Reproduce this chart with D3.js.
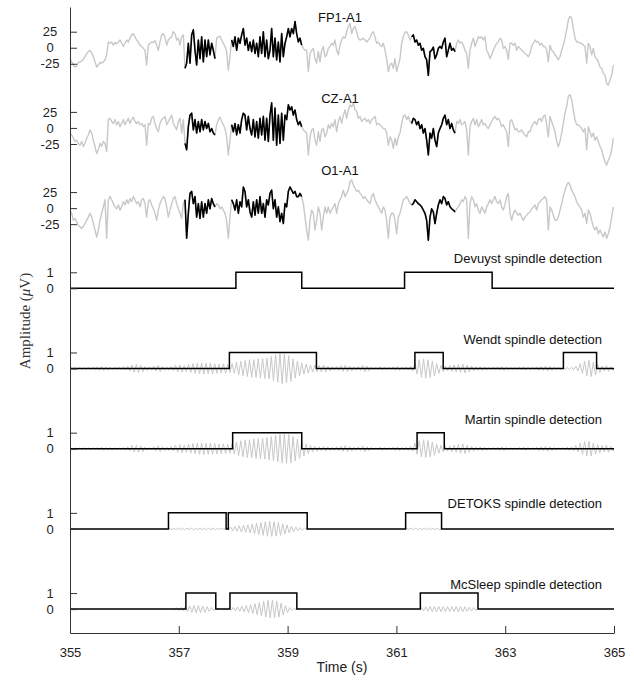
<!DOCTYPE html>
<html>
<head>
<meta charset="utf-8">
<script src="https://cdn.jsdelivr.net/npm/d3@7/dist/d3.min.js"></script>
<style>
  body { margin: 0; background: #fff; }
  text { font-family: "Liberation Sans", Arial, sans-serif; }
</style>
</head>
<body>
<div id="chart"></div>
<script>
// EEG traces (µV), resampled at fs starting at 355 s
const fs = 32.64;
const tStart = 355;

const fp1 = [
  -17,-22,-27,-30,-29,-23,-22,-21,-18,-14, -9,-6,-4,-8,-14,-22,-30,-27,-23,-24,
  -22,-19,-11,9,7,9,4,8,6,9, 12,7,2,7,12,9,15,20,22,17,
  12,9,4,2,-1,-4,-27,4,7,9, 8,11,4,-4,9,20,22,17,4,12,
  15,17,25,22,12,15,4,17,20,-32, -24,7,-24,20,28,-4,-27,12,-17,17,
  -22,12,-14,12,-11,7,-4,-17,15,17, 18,12,7,2,-6,-35,-14,12,2,17,
  -4,15,7,20,30,4,15,-4,9,-6, 12,-9,7,-14,17,-9,25,-14,12,-17,
  -4,30,-14,15,-19,9,-22,22,-14,7, 17,30,17,30,22,41,22,9,15,4,
  -1,-4,-4,-37,-9,-4,-1,-17,-24,-6, -22,-4,2,-14,-11,-1,2,7,4,12,
  -4,-11,4,12,17,15,25,33,38,22, 30,33,25,15,12,13,15,12,9,12,
  15,22,25,17,7,9,4,2,7,-4, -17,-37,-27,-24,-32,-17,-37,-27,-17,7,
  17,24,25,20,12,17,20,9,12,4, 7,-4,-1,-14,-19,-43,-6,-4,1,-17,
  -11,-1,2,-1,9,15,-14,-4,7,-4, -1,-6,7,12,7,9,4,-4,-9,-32,
  -4,7,15,2,9,17,15,17,12,17, -4,-9,-17,-11,-4,2,7,9,15,12,
  -1,2,-4,-18,7,7,4,7,-4,2, -1,-4,-6,-9,-11,-14,-9,2,7,12,
  9,9,4,7,2,2,-4,-22,4,-4, -6,-11,-14,-19,-14,-4,4,15,28,43,
  49,46,30,15,9,9,7,7,4,2, -24,7,2,-11,-1,-14,-17,-22,-30,-32,
  -40,-43,-56,-58,-50,-43,-27
];

const cz = [
  -8,-11,-16,-21,-19,-24,-27,-21,-29,-24, -16,-11,-3,-8,-19,-29,-40,-34,-24,-29,
  -21,-24,-37,13,15,10,7,13,5,10, 2,7,13,5,10,15,7,13,17,10,
  7,10,5,7,2,5,-27,7,5,15, 18,7,-1,-6,7,13,15,18,5,10,
  15,20,7,2,-3,10,15,-8,13,-24, -34,2,20,23,-3,13,-8,10,-6,13,
  -3,10,-1,7,-6,-1,-8,-11,5,13, 17,10,5,-1,-14,-42,-19,5,-6,7,
  -11,5,-8,13,23,20,-3,18,-1,-11, 13,-14,10,-16,15,-11,18,-19,15,-21,
  20,39,-19,31,-27,20,-24,23,-19,20, 13,36,28,33,20,28,13,5,10,2,
  -3,-6,-8,-42,-14,-3,-1,-19,-27,-6, -21,-3,-1,-14,-8,5,-1,7,2,13,
  -6,10,18,7,20,28,15,28,36,33, 39,28,26,15,18,10,13,15,10,13,
  7,13,15,18,5,7,5,2,-1,-1, -8,-27,-14,-19,-32,-16,-27,-14,-8,7,
  18,20,13,18,10,7,15,13,5,10, -1,5,-8,-1,-19,-42,-8,-16,-1,-19,
  -29,-8,-1,5,15,20,5,13,-1,7, -3,-8,10,7,13,5,7,10,-3,-42,
  2,10,15,5,13,2,7,13,5,7, 2,-1,5,10,15,18,13,15,10,2,
  5,-1,-6,-29,10,13,5,-3,-1,-6, -6,-3,-8,-11,-14,-6,-6,2,7,10,
  5,13,15,10,18,20,5,-14,18,10, 2,-6,-21,-29,-21,-8,7,23,33,49,
  52,44,28,13,5,5,2,-1,-6,-1, -34,2,-6,-14,-8,-19,-14,-21,-29,-34,
  -45,-53,-58,-50,-45,-34,-16
];

const o1 = [
  -3,-8,-19,-16,-21,-27,-29,-32,-29,-24, -19,-14,-8,-14,-24,-34,-45,-34,-19,-8,
  2,13,-47,13,18,13,7,2,-1,5, -3,2,10,5,13,7,15,10,18,13,
  7,10,2,13,15,7,-14,10,13,5, -1,-8,-19,-3,7,13,18,15,2,-14,
  -3,7,15,18,7,-1,-8,-16,7,13, -47,-8,23,26,7,18,-14,7,-16,10,
  -14,7,-8,13,-1,15,7,2,7,5, -1,2,-3,-8,-19,-47,-14,13,7,-3,
  13,-8,10,2,33,26,2,13,-6,-14, 10,-11,13,-8,18,-8,7,-14,13,5,
  23,28,-1,13,-14,2,-21,-8,-24,7, 2,26,33,28,23,26,18,18,23,18,
  7,-14,-34,-50,-19,-3,-8,-34,-19,2, -8,-34,-14,2,-8,2,-8,-3,2,7,
  -8,7,13,18,28,18,23,28,41,44, 36,31,26,28,23,20,15,18,13,10,
  7,18,23,13,7,2,-3,-8,2,-3, -19,-47,-14,-8,-8,-19,-40,-14,-8,2,
  13,15,18,13,7,5,7,13,10,7, 5,2,-3,-8,-19,-50,-14,-1,-6,-24,
  -8,5,13,7,18,15,5,10,2,-1, -3,-6,-1,2,7,13,10,18,13,-47,
  7,18,13,2,7,-3,-8,2,-3,-8, 2,7,13,7,13,18,10,7,13,2,
  -3,5,18,23,-8,-19,-8,-3,-8,-11, -8,-14,-19,-14,-11,-8,-6,-1,2,5,
  -3,7,10,13,15,18,13,-34,2,-3, -11,-19,-19,-14,-3,7,18,28,36,40,
  36,28,23,18,10,5,2,-3,-14,-8, -24,-3,-8,-19,-29,-34,-29,-40,-34,-40,
  -45,-37,-47,-40,-29,-14,2
];

const channelNames = ["FP1-A1", "CZ-A1", "O1-A1"];
// stretches of the EEG drawn in black (s)
const eegSpindles = [[357.11, 357.67], [357.97, 359.26], [361.28, 362.08]];

// detector outputs: [onset, offset] in s
const detectorNames = ["Devuyst spindle detection", "Wendt spindle detection",
  "Martin spindle detection", "DETOKS spindle detection", "McSleep spindle detection"];
const devuyst = [[358.05, 359.26], [361.15, 362.76]];
const wendt = [[357.93, 359.53], [361.34, 361.86], [364.07, 364.68]];
const martin = [[357.99, 359.26], [361.38, 361.88]];
const detoks = [[356.81, 357.87], [357.91, 359.36], [361.17, 361.83]];
const mcsleep = [[357.13, 357.68], [357.94, 359.17], [361.44, 362.50]];

// sigma-band trace behind the detections: amplitude of each cycle (0.08 s per cycle)
const cycle = 0.08;
const wendtSigma = [
  0.04,0.05,0.06,0.05,0.06, 0.08,0.1,0.12,0.1,0.08,0.06,0.08,0.1,
  0.15,0.22,0.25,0.2,0.12,0.1, 0.15,0.2,0.12,0.08,0.12,0.2,
  0.22,0.18,0.25,0.3,0.33,0.35,0.32,0.34,0.3,0.28,0.3,0.25,
  0.3,0.4,0.45,0.5,0.55,0.55,0.6,0.62,0.65,0.75,0.85,0.95,0.9,0.8,0.6,0.45,0.35,0.28,0.22,0.2,
  0.2,0.22,0.15,0.1,0.12,0.18,0.2,0.15,0.1,0.12,0.2,0.15,0.08,0.06,0.1,0.08,0.06,0.1,0.12,0.08,0.1,0.15,
  0.35,0.55,0.6,0.55,0.45,0.3,0.2,0.15,
  0.18,0.22,0.25,0.28,0.22,0.15,0.1,0.12,0.1,0.06,0.08,0.1,0.12,0.08,0.06,0.05,0.08,0.1,0.08,0.06,0.1,0.12,0.15,0.12,0.08,0.06,
  0.05,0.06,0.08,0.15,0.3,0.45,0.5,0.4,0.25,0.15,0.18,0.12
];
const martinSigma = [
  0.04,0.05,0.05,0.06,0.05, 0.06,0.08,0.1,0.08,0.06,0.05,0.06,0.08,
  0.12,0.2,0.22,0.18,0.1,0.08, 0.12,0.18,0.12,0.1,0.14,0.22,
  0.25,0.22,0.28,0.32,0.35,0.36,0.34,0.35,0.32,0.3,0.3,0.28,
  0.32,0.42,0.5,0.55,0.55,0.6,0.62,0.65,0.7,0.75,0.82,0.9,0.92,0.88,0.75,0.6,0.45,0.3,0.2,0.15,
  0.12,0.15,0.12,0.1,0.12,0.16,0.2,0.15,0.1,0.12,0.18,0.12,0.08,0.06,0.1,0.08,0.06,0.1,0.12,0.08,0.1,0.15,
  0.35,0.5,0.55,0.5,0.4,0.28,0.2,0.15,
  0.18,0.22,0.28,0.3,0.22,0.15,0.1,0.12,0.1,0.06,0.08,0.1,0.12,0.08,0.06,0.05,0.08,0.1,0.08,0.06,0.1,0.12,0.15,0.12,0.08,0.06,
  0.08,0.1,0.12,0.2,0.35,0.45,0.45,0.35,0.25,0.2,0.22,0.15
];
const detoksSigma = [
  { start: 356.81, amp: [0.04,0.05,0.05,0.05,0.05,0.06,0.05,0.05,0.05,0.05,0.05,0.04,0.04,
    0.08,0.12,0.15,0.2,0.22,0.25,0.3,0.35,0.4,0.45,0.47,0.45,0.4,0.32,0.25,0.18,0.12,0.08,0.05] },
  { start: 361.17, amp: [0.04,0.05,0.05,0.05,0.05,0.05,0.05,0.04] }
];
const mcsleepSigma = [
  { start: 356.86, amp: [0.05,0.08,0.1,0.15,0.2,0.23,0.22,0.2,0.15,0.1,0.05,0.04,0.05,
    0.08,0.1,0.14,0.18,0.22,0.28,0.35,0.42,0.5,0.55,0.55,0.5,0.38,0.22,0.1,0.04] },
  { start: 361.44, amp: [0.1,0.14,0.16,0.17,0.16,0.15,0.15,0.16,0.17,0.16,0.14,0.12,0.1] }
];
const wendtSigmaSegs = [{ start: 355, amp: wendtSigma }];
const martinSigmaSegs = [{ start: 355, amp: martinSigma }];

const xTicks = [355, 357, 359, 361, 363, 365];

// ---------------------------------------------------------------
const W = 634, H = 682;
const rowGap = 5;          // vertical distance between rows, in y units
const uvPerUnit = 25;      // 25 µV drawn as one unit

const x = d3.scaleLinear().domain([355, 365]).range([70, 614]);
const y = d3.scaleLinear().domain([2.54, -36.49]).range([7, 633]);

const svg = d3.select("#chart").append("svg")
    .attr("width", W)
    .attr("height", H);

const eeg = [fp1, cz, o1];
const detections = [devuyst, wendt, martin, detoks, mcsleep];
const sigmas = [null, wendtSigmaSegs, martinSigmaSegs, detoksSigma, mcsleepSigma];
const titleDy = [-26, -25, -33, -25, -24.5, -24.5, -21, -20.5];

const lineXY = d3.line().x(d => x(d[0])).y(d => y(d[1]));

// EEG channels
eeg.forEach((sig, k) => {
    const off = -rowGap * k;
    const pts = sig.map((v, i) => [tStart + i / fs, v / uvPerUnit + off]);

    svg.append("path")
        .attr("d", lineXY(pts))
        .attr("fill", "none")
        .attr("stroke", "#c8c8c8")
        .attr("stroke-width", 1.4)
        .attr("stroke-linejoin", "round");

    eegSpindles.forEach(([a, b]) => {
        const seg = pts.filter(p => p[0] >= a - 1e-6 && p[0] <= b + 1e-6);
        svg.append("path")
            .attr("d", lineXY(seg))
            .attr("fill", "none")
            .attr("stroke", "#000")
            .attr("stroke-width", 1.6)
            .attr("stroke-linejoin", "round");
    });

    svg.append("text")
        .attr("x", 340)
        .attr("y", y(off) + titleDy[k])
        .attr("text-anchor", "middle")
        .style("font-size", "13px")
        .attr("fill", "#111")
        .text(channelNames[k]);
});

// detector rows
detections.forEach((events, j) => {
    const k = j + 3;
    const off = -rowGap * k;

    if (sigmas[j]) {
        sigmas[j].forEach(seg => {
            const pts = [[seg.start, off]];
            seg.amp.forEach((a, i) => {
                pts.push([seg.start + i * cycle + cycle / 4, off + a]);
                pts.push([seg.start + i * cycle + 3 * cycle / 4, off - a]);
            });
            pts.push([seg.start + seg.amp.length * cycle, off]);
            svg.append("path")
                .attr("d", lineXY(pts))
                .attr("fill", "none")
                .attr("stroke", "#c8c8c8")
                .attr("stroke-width", 1);
        });
    }

    const steps = [[355, 0]];
    events.forEach(([a, b]) => { steps.push([a, 1]); steps.push([b, 0]); });
    steps.push([365, 0]);

    svg.append("path")
        .attr("d", d3.line()
            .x(d => x(d[0]))
            .y(d => y(d[1] + off))
            .curve(d3.curveStepAfter)(steps))
        .attr("fill", "none")
        .attr("stroke", "#000")
        .attr("stroke-width", 1.5);

    svg.append("text")
        .attr("x", 602)
        .attr("y", y(off) + titleDy[k])
        .attr("text-anchor", "end")
        .style("font-size", "13px")
        .attr("fill", "#111")
        .text(detectorNames[j]);
});

// y axis: ±25 µV on EEG rows, 0/1 on detector rows
const yTickLabels = new Map();
[0, 1, 2].forEach(k => {
    yTickLabels.set(-rowGap * k - 1, "-25");
    yTickLabels.set(-rowGap * k, "0");
    yTickLabels.set(-rowGap * k + 1, "25");
});
[3, 4, 5, 6, 7].forEach(k => {
    yTickLabels.set(-rowGap * k, "0");
    yTickLabels.set(-rowGap * k + 1, "1");
});

const yAxis = svg.append("g")
    .attr("transform", `translate(${x(355)},0)`)
    .call(d3.axisLeft(y)
        .tickValues([...yTickLabels.keys()])
        .tickFormat(d => yTickLabels.get(d))
        .tickSizeInner(-7)
        .tickSizeOuter(0));
yAxis.selectAll("text")
    .attr("x", -20)
    .attr("text-anchor", "middle")
    .style("font-size", "13px")
    .attr("fill", "#222");

const xAxis = svg.append("g")
    .attr("transform", `translate(0,${y.range()[1]})`)
    .call(d3.axisBottom(x)
        .tickValues(xTicks)
        .tickFormat(d3.format("d"))
        .tickSizeInner(-7)
        .tickSizeOuter(0));
xAxis.selectAll("text")
    .attr("y", 15)
    .style("font-size", "13px")
    .attr("fill", "#222");

svg.selectAll(".domain, .tick line").attr("stroke", "#333");

svg.append("text")
    .attr("x", 342)
    .attr("y", 672)
    .attr("text-anchor", "middle")
    .style("font-size", "14px")
    .attr("fill", "#222")
    .text("Time (s)");

const yl = svg.append("text")
    .attr("transform", "translate(30,321) rotate(-90)")
    .attr("text-anchor", "middle")
    .style("font-family", "'Liberation Serif', 'DejaVu Serif', serif")
    .style("font-size", "15px")
    .attr("fill", "#333");
yl.append("tspan").text("Amplitude (");
yl.append("tspan").style("font-style", "italic").text("μ");
yl.append("tspan").text("V)");
</script>
</body>
</html>
